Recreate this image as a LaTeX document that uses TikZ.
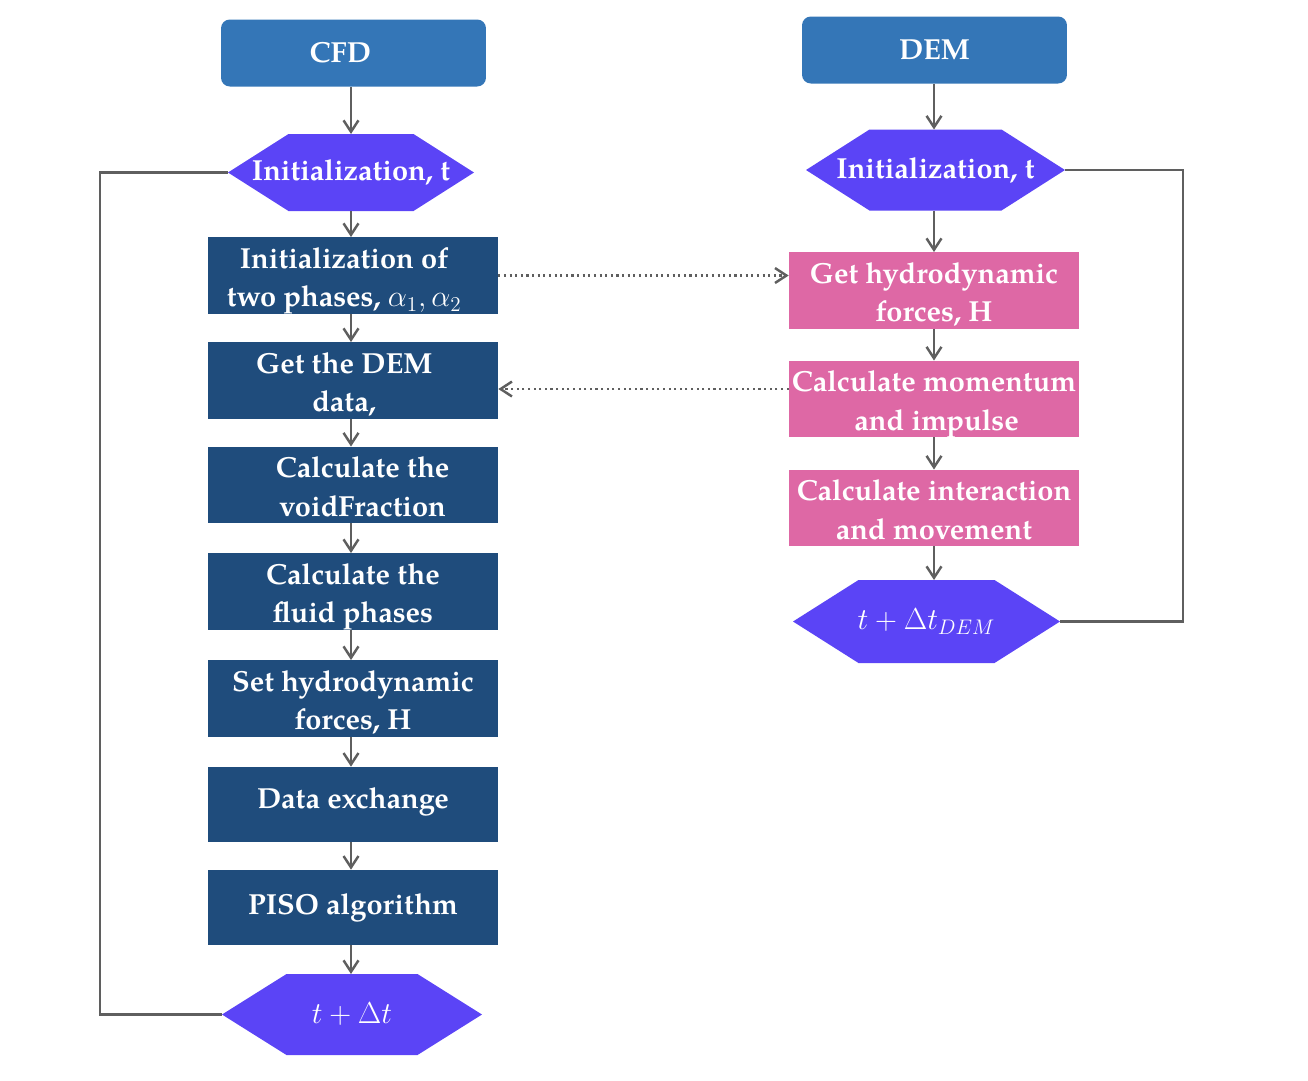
\documentclass[tikz,border=0pt]{standalone}
\usepackage{fontspec}
\setmainfont{TeX Gyre Pagella}
\usetikzlibrary{arrows.meta}
\definecolor{topc}{HTML}{3476B7}
\definecolor{hexc}{HTML}{5B44F6}
\definecolor{boxc}{HTML}{1F4C7C}
\definecolor{pinkc}{HTML}{DE68A5}
\definecolor{linec}{HTML}{5F5F5F}
\tikzset{
  txt/.style={text=white, font=\fontsize{16.5}{21.7}\selectfont\bfseries, align=center, inner sep=0pt},
  mtxt/.style={text=white, font=\fontsize{18.5}{22}\selectfont, align=center, inner sep=0pt},
  topbox/.style={txt, fill=topc, rounded corners=5pt, minimum width=5.3cm, minimum height=1.34cm},
  bluebox/.style={txt, fill=boxc, minimum width=5.8cm, minimum height=1.5cm},
  pinkbox/.style={txt, fill=pinkc, minimum width=5.8cm, minimum height=1.5cm},
  flow/.style={draw=linec, line width=1.4pt, -{Straight Barb[length=6.5pt,width=8.5pt,line width=1.4pt]}},
  loopline/.style={draw=linec, line width=1.4pt},
  xfer/.style={draw=linec, line width=1.2pt, dotted, -{Straight Barb[length=6.5pt,width=8.5pt,line width=1.4pt]}}
}
\newcommand\tx[1]{\raisebox{-2.5pt}[\height][\depth]{\begin{tabular}{@{}c@{}}#1\end{tabular}}}
% #1 name, #2 cx, #3 cy, #4 half width, #5 half flat, #6 half height, #7 style, #8 text
\newcommand\hexa[8]{%
  \fill[hexc] ({#2-#4},#3) -- ({#2-#5},{#3-#6}) -- ({#2+#5},{#3-#6}) -- ({#2+#4},#3)
     -- ({#2+#5},{#3+#6}) -- ({#2-#5},{#3+#6}) -- cycle;
  \node[#7] (#1) at (#2,#3) {#8};
  \coordinate (#1-w) at ({#2-#4},#3);
  \coordinate (#1-e) at ({#2+#4},#3);
  \coordinate (#1-n) at (#2,{#3-#6});
  \coordinate (#1-s) at (#2,{#3+#6});
}
\begin{document}
\begin{tikzpicture}[x=0.02cm,y=-0.02cm]
\useasboundingbox (0,0) rectangle (1308,1080);
% top boxes
\node[topbox] (cfd) at (353.5,53) {\hspace*{-15pt}CFD};
\node[topbox] (dem) at (934.5,50) {DEM};
% hexagons
\hexa{hinitL}{351}{172.5}{123}{62.5}{38.5}{txt}{Initialization, t}
\hexa{hinitR}{935.5}{170}{129.5}{66}{40.5}{txt}{Initialization, t}
\hexa{hendR}{926.5}{621.5}{133.5}{68}{41.5}{mtxt}{$t+\Delta t_{DEM}$}
\hexa{hendL}{352}{1014.5}{130}{65.5}{40.5}{mtxt}{$t+\Delta t$}
% left column
\node[bluebox] (b1) at (353,275.5) {\hspace*{-10pt}\tx{Initialization of\\two phases, $\alpha_1,\alpha_2$}};
\node[bluebox] (b2) at (353,380.5) {\hspace*{-10pt}\tx{Get the DEM\\data,}};
\node[bluebox] (b3) at (353,485) {\hspace*{11pt}\tx{Calculate the\\voidFraction}};
\node[bluebox] (b4) at (353,591.5) {\tx{Calculate the\\fluid phases}};
\node[bluebox] (b5) at (353,698.5) {\tx{Set hydrodynamic\\forces, H}};
\node[bluebox] (b6) at (353,804.5) {\raisebox{1.5pt}[\height][\depth]{Data exchange}};
\node[bluebox] (b7) at (353,907.5) {PISO algorithm};
% right column
\node[pinkbox] (p1) at (934,290.5) {\tx{Get hydrodynamic\\forces, H}};
\node[pinkbox] (p2) at (934,399) {\tx{Calculate momentum\\\hspace*{3pt}and impulse}};
\node[pinkbox] (p3) at (934,508) {\tx{Calculate interaction\\and movement}};
% left flow
\draw[flow] (cfd.south -| hinitL-n) -- (hinitL-n);
\draw[flow] (hinitL-s) -- (b1.north -| hinitL-s);
\draw[flow] (b1.south -| hinitL-s) -- (b2.north -| hinitL-s);
\draw[flow] (b2.south -| hinitL-s) -- (b3.north -| hinitL-s);
\draw[flow] (b3.south -| hinitL-s) -- (b4.north -| hinitL-s);
\draw[flow] (b4.south -| hinitL-s) -- (b5.north -| hinitL-s);
\draw[flow] (b5.south -| hinitL-s) -- (b6.north -| hinitL-s);
\draw[flow] (b6.south -| hinitL-s) -- (b7.north -| hinitL-s);
\draw[flow] (b7.south -| hinitL-s) -- (hendL-n -| hinitL-s);
% right flow
\draw[flow] (dem.south -| p1.north) -- (hinitR-n -| p1.north);
\draw[flow] (hinitR-s -| p1.north) -- (p1.north);
\draw[flow] (p1.south) -- (p2.north);
\draw[flow] (p2.south) -- (p3.north);
\draw[flow] (p3.south) -- (hendR-n -| p3.south);
% loops
\draw[loopline] (hinitL-w) -- (100,172.5) |- (hendL-w);
\draw[loopline] (hinitR-e) -- (1183,170) |- (hendR-e);
% data exchange
\draw[xfer] (b1.east) -- (b1.east -| p1.west);
\draw[xfer] (p2.west |- 0,389) -- (b2.east |- 0,389);
\end{tikzpicture}
\end{document}
